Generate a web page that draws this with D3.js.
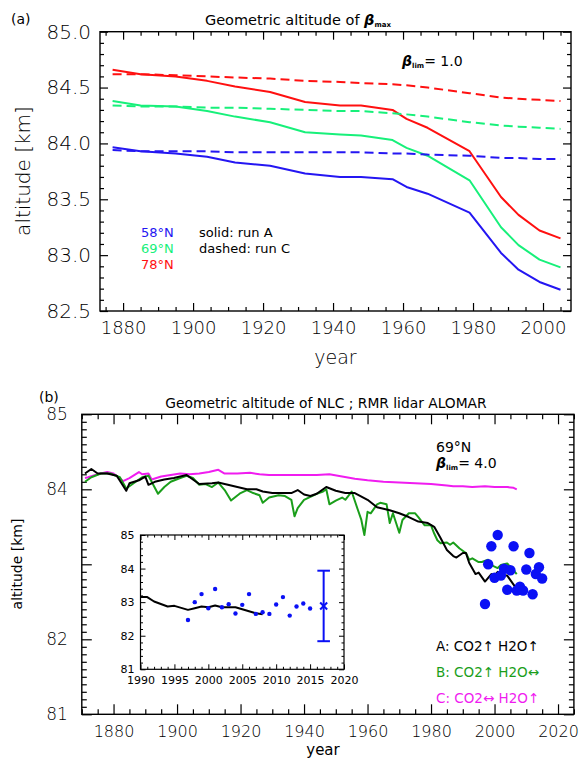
<!DOCTYPE html>
<html>
<head>
<meta charset="utf-8">
<script src="https://cdn.jsdelivr.net/npm/d3@7"></script>
<style>
  body { margin: 0; background: #fff; }
  svg { display: block; }
</style>
</head>
<body>
<svg id="chart" width="579" height="759"></svg>
<script>
// ---------- panel (a): altitude of the backscatter maximum, runs A and C ----------
const modelYears = [1877, 1885, 1895, 1904, 1912, 1922, 1932, 1942, 1948, 1957, 1961, 1967, 1979, 1988, 1993, 1999, 2005];
const lat58RunA = [83.965, 83.93, 83.91, 83.88, 83.83, 83.80, 83.73, 83.70, 83.70, 83.68, 83.61, 83.55, 83.38, 83.02, 82.87, 82.76, 82.69];
const lat69RunA = [84.38, 84.34, 84.33, 84.29, 84.24, 84.19, 84.10, 84.08, 84.07, 84.03, 83.96, 83.89, 83.67, 83.25, 83.09, 82.96, 82.89];
const lat78RunA = [84.66, 84.62, 84.60, 84.56, 84.51, 84.46, 84.37, 84.34, 84.34, 84.30, 84.22, 84.14, 83.93, 83.52, 83.36, 83.22, 83.15];
const lat58RunC = [83.94, 83.93, 83.93, 83.93, 83.92, 83.92, 83.92, 83.92, 83.92, 83.91, 83.91, 83.90, 83.89, 83.87, 83.87, 83.86, 83.86];
const lat69RunC = [84.34, 84.33, 84.33, 84.32, 84.32, 84.31, 84.30, 84.29, 84.29, 84.27, 84.26, 84.24, 84.19, 84.16, 84.15, 84.14, 84.13];
const lat78RunC = [84.62, 84.62, 84.61, 84.60, 84.59, 84.58, 84.56, 84.55, 84.54, 84.53, 84.52, 84.50, 84.45, 84.41, 84.40, 84.39, 84.38];
const latLabels = ["58°N", "69°N", "78°N"];
const betaLimA = "1.0";

// ---------- panel (b): NLC altitude at 69°N, runs A/B/C and lidar ----------
const runA = [[1871,84.21],[1873,84.27],[1875,84.21],[1878,84.21],[1881,84.18],[1884,83.98],[1885,84.08],[1888,84.12],[1890,84.17],[1891,84.06],[1893,84.10],[1896,84.13],[1899,84.15],[1903,84.19],[1907,84.07],[1911,84.08],[1913,84.09],[1916,84.06],[1919,84.03],[1922,84.00],[1925,84.00],[1927,83.97],[1930,83.95],[1933,83.95],[1936,83.95],[1938,83.99],[1940,83.93],[1942,83.91],[1944,83.94],[1947,84.03],[1950,83.98],[1953,83.95],[1956,83.95],[1960,83.86],[1963,83.76],[1967,83.72],[1970,83.68],[1973,83.63],[1976,83.57],[1979,83.55],[1981,83.50],[1983,83.35],[1985,83.19],[1987,83.11],[1988,83.09],[1990,83.15],[1991,83.15],[1992,83.02],[1994,82.87],[1995,82.89],[1997,82.77],[1998,82.82],[1999,82.87],[2000,82.85],[2001,82.90],[2002,82.85],[2004,82.85],[2005,82.79],[2007,82.67],[2008,82.64]];
const runB = [[1871,84.10],[1873,84.16],[1876,84.21],[1879,84.21],[1882,84.16],[1884,84.01],[1887,84.10],[1889,84.16],[1891,84.18],[1894,83.94],[1896,84.03],[1898,84.10],[1901,84.15],[1903,84.18],[1905,84.15],[1907,84.06],[1909,84.07],[1911,84.03],[1913,84.09],[1915,83.99],[1917,83.85],[1920,83.95],[1922,83.99],[1924,83.95],[1926,83.92],[1927,83.82],[1929,83.89],[1932,83.92],[1934,83.91],[1936,83.86],[1937,83.64],[1938,83.75],[1940,83.86],[1942,83.90],[1944,83.94],[1946,83.97],[1947,84.00],[1948,83.80],[1950,83.85],[1952,83.89],[1953,83.86],[1955,83.97],[1957,83.72],[1958,83.60],[1959,83.39],[1960,83.70],[1961,83.68],[1962,83.74],[1963,83.80],[1964,83.82],[1966,83.80],[1967,83.55],[1968,83.68],[1969,83.55],[1970,83.42],[1971,83.59],[1973,83.68],[1975,83.68],[1976,83.63],[1978,83.52],[1980,83.52],[1981,83.41],[1982,83.32],[1983,83.28],[1985,83.29],[1986,83.26],[1987,83.29],[1989,83.21],[1991,83.15],[1992,83.06],[1993,83.08],[1995,83.03],[1996,83.03],[1998,83.06],[1999,82.99],[2001,82.95],[2002,82.99],[2004,83.01],[2006,82.92],[2007,82.87]];
const runC = [[1871,84.15],[1872,84.16],[1875,84.20],[1878,84.23],[1880,84.21],[1883,84.11],[1885,84.15],[1888,84.23],[1889,84.20],[1891,84.21],[1892,84.13],[1895,84.17],[1898,84.19],[1901,84.21],[1904,84.20],[1907,84.21],[1910,84.23],[1913,84.26],[1915,84.21],[1919,84.21],[1923,84.22],[1926,84.20],[1929,84.19],[1932,84.19],[1936,84.19],[1940,84.19],[1944,84.19],[1948,84.20],[1952,84.17],[1956,84.14],[1960,84.12],[1965,84.10],[1970,84.09],[1975,84.08],[1980,84.07],[1985,84.05],[1987,84.04],[1990,84.04],[1993,84.03],[1997,84.04],[2000,84.03],[2004,84.03],[2006,84.02],[2007,84.00]];
const lidarYears = [1997, 1998, 1999, 2000, 2001, 2002, 2003, 2004, 2005, 2006, 2007, 2008, 2009, 2010, 2011, 2012, 2013, 2014, 2015];
const lidarAlt = [82.47, 83.00, 83.24, 82.82, 83.39, 82.85, 82.94, 82.66, 82.92, 83.24, 82.65, 82.70, 82.65, 82.93, 83.15, 82.60, 82.87, 82.96, 82.81];
const lidarMeanYear = 2017;
const lidarSpread = 1.05;
const betaLimB = "4.0";
const altTicksB = [81, 82, 84, 85];   // labelled altitudes on the left axis of panel (b)
const runLegend = [["A: CO2↑ H2O↑", "#000000"], ["B: CO2↑ H2O↔", "#1a9e1a"], ["C: CO2↔ H2O↑", "#f01cf0"]];

const FONT = '"DejaVu Sans", "Liberation Sans", sans-serif';
const svg = d3.select("#chart").style("font-family", FONT);

// IDL-style box axes: inward ticks on all four sides, labels on bottom/left only
function boxAxes(x, y, o) {
  const [x0, x1] = x.range();
  const [yb, yt] = y.range();
  const g = svg.append("g");
  const add = (fn, scale, vals, len, fmt, tr, fs, pad) => {
    const a = fn(scale).tickValues(vals).tickSize(-len).tickPadding(pad || 0)
      .tickFormat(fmt || (() => ""));
    const s = g.append("g").attr("transform", tr).call(a);
    s.select(".domain").remove();
    s.selectAll("line").attr("stroke", "#000").attr("stroke-width", o.tw);
    s.selectAll("text").attr("fill", "#000").style("font-size", fs + "px")
      .style("font-family", FONT).style("font-weight", o.weight);
    s.attr("font-family", null).attr("font-size", null);
  };
  const xMinor = o.xMinor.filter(v => !o.xMajor.some(m => Math.abs(m - v) < 1e-6));
  const yMinor = o.yMinor.filter(v => !o.yMajor.some(m => Math.abs(m - v) < 1e-6));
  add(d3.axisBottom, x, o.xMajor, o.maj, o.xFmt, `translate(0,${yb})`, o.xfs, o.xpad);
  add(d3.axisBottom, x, xMinor, o.min, null, `translate(0,${yb})`);
  add(d3.axisTop, x, o.xMajor, o.maj, null, `translate(0,${yt})`);
  add(d3.axisTop, x, xMinor, o.min, null, `translate(0,${yt})`);
  add(d3.axisLeft, y, o.yMajor, o.maj, o.yFmt, `translate(${x0},0)`, o.yfs, o.ypad);
  add(d3.axisLeft, y, yMinor, o.min, null, `translate(${x0},0)`);
  add(d3.axisRight, y, o.yMajor, o.maj, null, `translate(${x1},0)`);
  add(d3.axisRight, y, yMinor, o.min, null, `translate(${x1},0)`);
  g.append("rect").attr("x", x0).attr("y", yt).attr("width", x1 - x0).attr("height", yb - yt)
    .attr("fill", "none").attr("stroke", "#000").attr("stroke-width", o.fw);
  return g;
}

function text(x, y, str, size, color, anchor, weight) {
  return svg.append("text").attr("x", x).attr("y", y).attr("fill", color || "#000")
    .attr("text-anchor", anchor || "start").style("font-size", size + "px")
    .style("font-weight", weight || 400).text(str);
}

function betaLabel(x, y, sub, rest, size) {
  const t = svg.append("text").attr("x", x).attr("y", y).style("font-size", size + "px").attr("fill", "#000");
  t.append("tspan").attr("font-weight", "bold").attr("font-style", "italic").text("β");
  t.append("tspan").attr("font-weight", "bold").style("font-size", (size * 0.5) + "px").attr("dy", 2).text(sub);
  t.append("tspan").attr("dy", -2).text(rest);
  return t;
}

// ---------- draw panel (a) ----------
const xA = d3.scaleLinear().domain([1873.4, 2008]).range([100, 571]);
const yA = d3.scaleLinear().domain([82.5, 85.0]).range([311, 31.7]);

boxAxes(xA, yA, {
  xMajor: d3.range(1880, 2001, 20),
  xMinor: d3.range(1875, 2009, 5),
  yMajor: d3.range(825, 851, 5).map(v => v / 10),
  yMinor: d3.range(825, 851, 1).map(v => v / 10),
  xFmt: d3.format("d"), yFmt: d3.format(".1f"),
  maj: 8, min: 4, tw: 1.2, fw: 1.4, xfs: 18, yfs: 20, xpad: 10, ypad: 9, weight: 200
});

const lineA = d3.line().x((d, i) => xA(modelYears[i])).y(d => yA(d));
const seriesA = [
  [lat58RunA, "#2416f2", null], [lat69RunA, "#17f07a", null], [lat78RunA, "#ff1010", null],
  [lat58RunC, "#2416f2", "9,5"], [lat69RunC, "#17f07a", "9,5"], [lat78RunC, "#ff1010", "9,5"]
];
seriesA.forEach(([vals, col, dash]) => {
  svg.append("path").datum(vals).attr("d", lineA).attr("fill", "none")
    .attr("stroke", col).attr("stroke-width", 2).attr("stroke-dasharray", dash)
    .attr("stroke-linejoin", "round");
});

text(11, 24, "(a)", 14);
const titleA = svg.append("text").attr("x", 298).attr("y", 25).attr("text-anchor", "middle")
  .style("font-size", "14.5px").attr("fill", "#000");
titleA.append("tspan").text("Geometric altitude of ");
titleA.append("tspan").attr("font-weight", "bold").attr("font-style", "italic").text("β");
titleA.append("tspan").style("font-size", "7px").attr("font-weight", "bold").attr("dy", 2).text("max");
betaLabel(402, 66, "lim", "= " + betaLimA, 14);

svg.append("text").attr("transform", "translate(30,171) rotate(-90)").attr("text-anchor", "middle")
  .style("font-size", "20px").style("font-weight", 200).text("altitude [km]");
text(335.5, 364, "year", 19, "#000", "middle", 200);

["#2416f2", "#17f07a", "#ff1010"].forEach((c, i) => text(141, 237 + i * 16, latLabels[i], 13, c));
text(199, 237, "solid: run A", 13);
text(199, 253, "dashed: run C", 13);

// ---------- draw panel (b) ----------
const xB = d3.scaleLinear().domain([1870, 2025]).range([81.8, 573.9]);
const yB = d3.scaleLinear().domain([81, 85]).range([714.3, 414.3]);

boxAxes(xB, yB, {
  xMajor: d3.range(1880, 2021, 20),
  xMinor: d3.range(1870, 2026, 5),
  yMajor: d3.range(81, 86, 1),
  yMinor: d3.range(810, 851, 1).map(v => v / 10),
  xFmt: d3.format("d"), yFmt: v => (altTicksB.includes(v) ? d3.format("d")(v) : ""),
  maj: 10, min: 5, tw: 1.2, fw: 1.4, xfs: 16, yfs: 17, xpad: 11, ypad: 14, weight: 200
});

const lineB = d3.line().x(d => xB(d[0])).y(d => yB(d[1]));
[[runC, "#f01cf0"], [runB, "#1a9e1a"], [runA, "#000000"]].forEach(([vals, col]) => {
  svg.append("path").datum(vals).attr("d", lineB).attr("fill", "none")
    .attr("stroke", col).attr("stroke-width", 2).attr("stroke-linejoin", "round");
});

svg.append("g").selectAll("circle").data(lidarYears).join("circle")
  .attr("cx", d => xB(d)).attr("cy", (d, i) => yB(lidarAlt[i])).attr("r", 5.2)
  .attr("fill", "#0a10f5");

text(39, 402, "(b)", 14);
text(326, 408, "Geometric altitude of NLC ; RMR lidar ALOMAR", 13.8, "#000", "middle");
text(436, 452, "69°N", 14);
betaLabel(436, 468, "lim", "= " + betaLimB, 14);
runLegend.forEach(([s, c], i) => text(436, 651 + i * 26, s, 13.5, c));

svg.append("text").attr("transform", "translate(22,564) rotate(-90)").attr("text-anchor", "middle")
  .style("font-size", "14px").text("altitude [km]");
text(323, 755, "year", 15, "#000", "middle");

// ---------- inset: lidar years ----------
const xI = d3.scaleLinear().domain([1990, 2020]).range([140.5, 344]);
const yI = d3.scaleLinear().domain([81, 85]).range([669.3, 535]);
svg.append("rect").attr("x", 140.5).attr("y", 535).attr("width", 344 - 140.5).attr("height", 669.3 - 535)
  .attr("fill", "#fff");
boxAxes(xI, yI, {
  xMajor: d3.range(1990, 2021, 5),
  xMinor: d3.range(1990, 2021, 1),
  yMajor: d3.range(81, 86, 1),
  yMinor: d3.range(810, 851, 2).map(v => v / 10),
  xFmt: d3.format("d"), yFmt: d3.format("d"),
  maj: 5, min: 2.5, tw: 1, fw: 1.2, xfs: 11, yfs: 11, xpad: 7, ypad: 6, weight: 400
});
const lineI = d3.line().x(d => xI(d[0])).y(d => yI(d[1]));
svg.append("path").datum(runA.filter(d => d[0] >= 1990)).attr("d", lineI).attr("fill", "none")
  .attr("stroke", "#000").attr("stroke-width", 2).attr("stroke-linejoin", "round");
svg.append("g").selectAll("circle").data(lidarYears).join("circle")
  .attr("cx", d => xI(d)).attr("cy", (d, i) => yI(lidarAlt[i])).attr("r", 2.2)
  .attr("fill", "#0a10f5");

const lidarMean = d3.mean(lidarAlt);
const eb = svg.append("g").attr("stroke", "#0a10f5").attr("stroke-width", 2);
const ex = xI(lidarMeanYear);
eb.append("line").attr("x1", ex).attr("x2", ex).attr("y1", yI(lidarMean - lidarSpread)).attr("y2", yI(lidarMean + lidarSpread));
[lidarMean - lidarSpread, lidarMean + lidarSpread].forEach(v =>
  eb.append("line").attr("x1", ex - 6.3).attr("x2", ex + 6.3).attr("y1", yI(v)).attr("y2", yI(v)));
eb.append("line").attr("x1", ex - 3.5).attr("x2", ex + 3.5).attr("y1", yI(lidarMean) - 3.5).attr("y2", yI(lidarMean) + 3.5);
eb.append("line").attr("x1", ex - 3.5).attr("x2", ex + 3.5).attr("y1", yI(lidarMean) + 3.5).attr("y2", yI(lidarMean) - 3.5);
</script>
</body>
</html>
